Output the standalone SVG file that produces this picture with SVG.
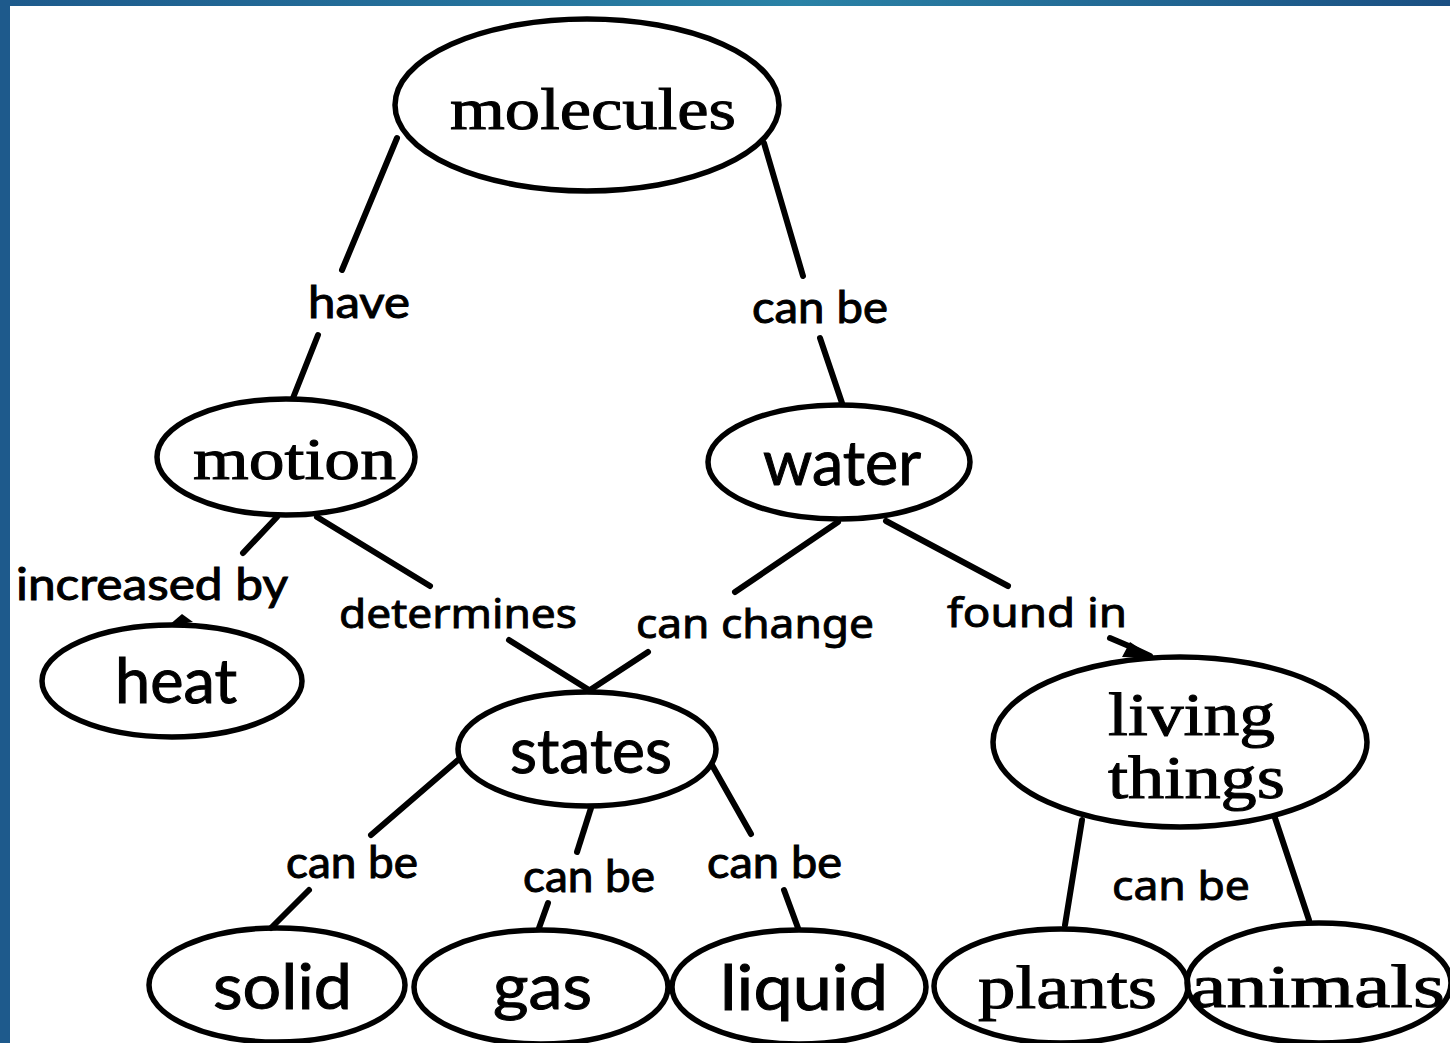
<svg xmlns="http://www.w3.org/2000/svg" width="1450" height="1043" viewBox="0 0 1450 1043">
<defs>
<linearGradient id="topbar" x1="0" y1="0" x2="1" y2="0">
<stop offset="0" stop-color="#1d5a8c"/>
<stop offset="0.55" stop-color="#2a82a6"/>
<stop offset="1" stop-color="#1a4f82"/>
</linearGradient>
<style>
.node ellipse{fill:none;stroke:#000;stroke-width:5.5}
.conn line,.conn path{stroke:#000;stroke-width:6;stroke-linecap:round;fill:none}
.conn polygon{fill:#000;stroke:none}
.serif{font-family:"Liberation Serif","Times New Roman",serif;fill:#000;stroke:#000;stroke-width:1}
.sans{font-family:Lato,"Liberation Sans",sans-serif;fill:#000;stroke:#000;stroke-width:1}
.lab{font-family:Lato,"Liberation Sans",sans-serif;font-size:44px;fill:#000;stroke:#000;stroke-width:1}
.lab2{font-family:"Noto Sans","DejaVu Sans",sans-serif;font-size:40px;fill:#000;stroke:#000;stroke-width:0.9}
</style>
</defs>
<rect x="0" y="0" width="1450" height="1043" fill="#ffffff"/>
<rect x="0" y="0" width="1450" height="6" fill="url(#topbar)"/>
<rect x="0" y="0" width="10" height="1043" fill="#1e5a8c"/>

<g id="connectors" class="conn">
<line x1="397" y1="138" x2="342" y2="270"/>
<line x1="318" y1="335" x2="293" y2="398"/>
<line x1="764" y1="143" x2="803" y2="276"/>
<line x1="820" y1="338" x2="842" y2="403"/>
<line x1="277" y1="517" x2="243" y2="553"/>
<polygon points="168,626 182,614 193,622"/>
<line x1="317" y1="517" x2="430" y2="586"/>
<line x1="509" y1="640" x2="589" y2="690"/>
<line x1="838" y1="522" x2="735" y2="592"/>
<line x1="648" y1="652" x2="590" y2="690"/>
<line x1="886" y1="521" x2="1008" y2="586"/>
<path d="M1110,638 Q1130,646 1150,656"/>
<polygon points="1122,657 1130,642 1154,658"/>
<line x1="458" y1="760" x2="371" y2="835"/>
<line x1="309" y1="890" x2="271" y2="928"/>
<line x1="591" y1="808" x2="577" y2="852"/>
<line x1="548" y1="903" x2="539" y2="928"/>
<line x1="712" y1="765" x2="751" y2="834"/>
<line x1="784" y1="890" x2="798" y2="928"/>
<line x1="1082" y1="820" x2="1065" y2="925"/>
<line x1="1275" y1="818" x2="1309" y2="920"/>
<text class="lab" x="308" y="318" textLength="102" lengthAdjust="spacingAndGlyphs">have</text>
<text class="lab" x="752" y="323" textLength="136" lengthAdjust="spacingAndGlyphs">can be</text>
<text class="lab" x="16" y="600" textLength="272" lengthAdjust="spacingAndGlyphs">increased by</text>
<text class="lab2" x="339" y="628" font-size="34" textLength="238" lengthAdjust="spacingAndGlyphs">determines</text>
<text class="lab2" x="636" y="638" textLength="238" lengthAdjust="spacingAndGlyphs">can change</text>
<text class="lab2" x="947" y="627" textLength="180" lengthAdjust="spacingAndGlyphs">found in</text>
<text class="lab" x="286" y="878" textLength="132" lengthAdjust="spacingAndGlyphs">can be</text>
<text class="lab" x="523" y="892" textLength="132" lengthAdjust="spacingAndGlyphs">can be</text>
<text class="lab" x="707" y="878" textLength="135" lengthAdjust="spacingAndGlyphs">can be</text>
<text class="lab2" x="1112" y="900" textLength="138" lengthAdjust="spacingAndGlyphs">can be</text>
</g>

<g id="node-molecules" class="node">
<ellipse cx="587" cy="105" rx="192" ry="86"/>
<text class="serif" x="450" y="129" font-size="60" textLength="286" lengthAdjust="spacingAndGlyphs">molecules</text>
</g>
<g id="node-motion" class="node">
<ellipse cx="286" cy="457" rx="129" ry="58"/>
<text class="serif" x="193" y="479" font-size="60" textLength="203" lengthAdjust="spacingAndGlyphs">motion</text>
</g>
<g id="node-water" class="node">
<ellipse cx="839" cy="462" rx="131" ry="57"/>
<text class="sans" x="763" y="485" font-size="62" textLength="158" lengthAdjust="spacingAndGlyphs">water</text>
</g>
<g id="node-heat" class="node">
<ellipse cx="172" cy="681" rx="130" ry="56"/>
<text class="sans" x="115" y="703" font-size="62" textLength="122" lengthAdjust="spacingAndGlyphs">heat</text>
</g>
<g id="node-states" class="node">
<ellipse cx="587" cy="749" rx="129" ry="57"/>
<text class="sans" x="510" y="773" font-size="62" textLength="162" lengthAdjust="spacingAndGlyphs">states</text>
</g>
<g id="node-living-things" class="node">
<ellipse cx="1180" cy="742" rx="187" ry="85"/>
<text class="serif" x="1108" y="735" font-size="62" textLength="167" lengthAdjust="spacingAndGlyphs">living</text>
<text class="serif" x="1108" y="798" font-size="62" textLength="177" lengthAdjust="spacingAndGlyphs">things</text>
</g>
<g id="node-solid" class="node">
<ellipse cx="277" cy="985" rx="128" ry="57"/>
<text class="sans" x="213" y="1009" font-size="62" textLength="139" lengthAdjust="spacingAndGlyphs">solid</text>
</g>
<g id="node-gas" class="node">
<ellipse cx="541" cy="987" rx="127" ry="57"/>
<text class="sans" x="493" y="1009" font-size="62" textLength="99" lengthAdjust="spacingAndGlyphs">gas</text>
</g>
<g id="node-liquid" class="node">
<ellipse cx="799" cy="987" rx="127" ry="57"/>
<text class="sans" x="720" y="1010" font-size="62" textLength="168" lengthAdjust="spacingAndGlyphs">liquid</text>
</g>
<g id="node-plants" class="node">
<ellipse cx="1061" cy="986" rx="127" ry="57"/>
<text class="serif" x="978" y="1008" font-size="62" textLength="179" lengthAdjust="spacingAndGlyphs">plants</text>
</g>
<g id="node-animals" class="node">
<ellipse cx="1319" cy="983" rx="132" ry="60"/>
<text class="serif" x="1190" y="1007" font-size="62" textLength="255" lengthAdjust="spacingAndGlyphs">animals</text>
</g>
</svg>
